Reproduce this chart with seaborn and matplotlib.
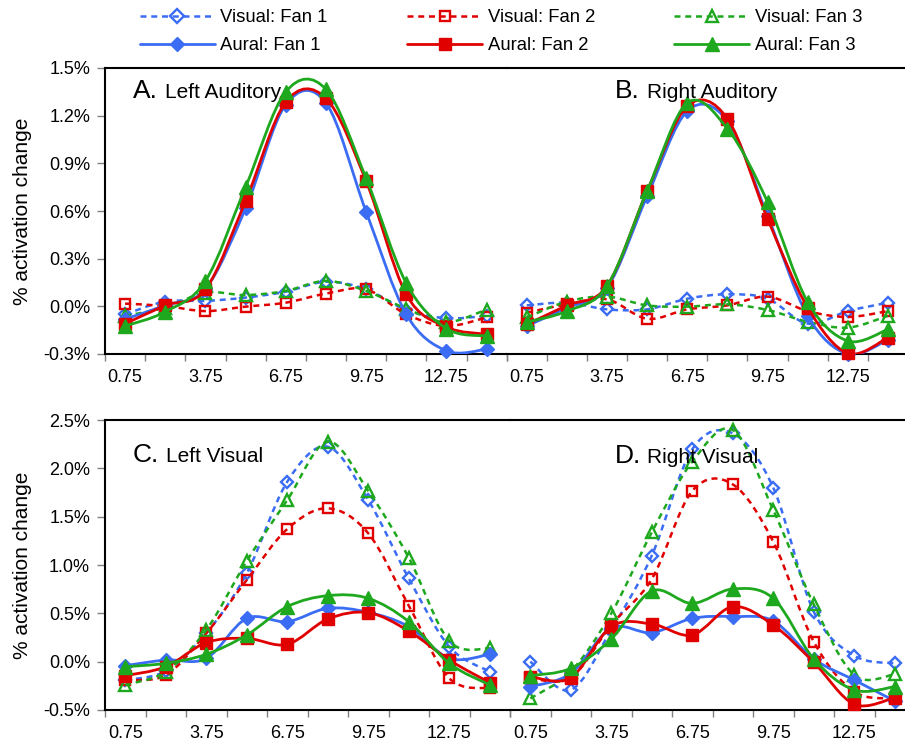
import numpy as np
import pandas as pd
import matplotlib
matplotlib.use("Agg")
import matplotlib.pyplot as plt
import seaborn as sns
from matplotlib.path import Path
from matplotlib.patches import PathPatch
from matplotlib.lines import Line2D
from matplotlib.ticker import FixedLocator, FuncFormatter, NullFormatter

# ---------------- data ----------------
x_vals = [0.75, 2.25, 3.75, 5.25, 6.75, 8.25, 9.75, 11.25, 12.75, 14.25]
x_tick_labels = ["0.75", "3.75", "6.75", "9.75", "12.75"]
x_tick_pos = [0.75, 3.75, 6.75, 9.75, 12.75]

series_labels = ["Visual: Fan 1", "Visual: Fan 2", "Visual: Fan 3",
                 "Aural: Fan 1", "Aural: Fan 2", "Aural: Fan 3"]

# A. Left Auditory
la_v1 = [-0.05, 0.03, 0.034, 0.055, 0.092, 0.155, 0.107, -0.023, -0.075, -0.06]
la_v2 = [0.017, 0.002, -0.03, -0.002, 0.023, 0.08, 0.107, -0.05, -0.124, -0.07]
la_v3 = [-0.06, -0.008, 0.086, 0.071, 0.097, 0.16, 0.097, -0.015, -0.10, -0.02]
la_a1 = [-0.08, 0.006, 0.11, 0.617, 1.27, 1.28, 0.596, -0.05, -0.28, -0.27]
la_a2 = [-0.11, 0.006, 0.107, 0.663, 1.286, 1.309, 0.789, 0.075, -0.13, -0.176]
la_a3 = [-0.124, -0.034, 0.16, 0.751, 1.35, 1.366, 0.806, 0.145, -0.14, -0.187]

# B. Right Auditory
ra_v1 = [0.006, 0.023, -0.019, -0.019, 0.048, 0.076, 0.048, -0.109, -0.03, 0.023]
ra_v2 = [-0.04, 0.013, 0.044, -0.078, -0.019, 0.006, 0.061, -0.03, -0.067, -0.03]
ra_v3 = [-0.07, 0.03, 0.061, 0.006, -0.002, 0.013, -0.023, -0.097, -0.134, -0.06]
ra_a1 = [-0.124, -0.008, 0.117, 0.694, 1.229, 1.166, 0.57, -0.06, -0.30, -0.21]
ra_a2 = [-0.113, 0.006, 0.128, 0.726, 1.26, 1.181, 0.552, -0.008, -0.296, -0.197]
ra_a3 = [-0.099, -0.03, 0.128, 0.726, 1.28, 1.118, 0.657, 0.027, -0.218, -0.145]

# C. Left Visual
lv_v1 = [-0.19, -0.097, 0.293, 0.914, 1.862, 2.224, 1.672, 0.862, 0.155, -0.103]
lv_v2 = [-0.19, -0.138, 0.293, 0.845, 1.372, 1.586, 1.328, 0.579, -0.172, -0.276]
lv_v3 = [-0.241, -0.103, 0.328, 1.041, 1.672, 2.276, 1.766, 1.076, 0.214, 0.138]
lv_a1 = [-0.041, 0.017, 0.034, 0.448, 0.414, 0.552, 0.51, 0.362, 0.034, 0.076]
lv_a2 = [-0.145, -0.052, 0.197, 0.241, 0.179, 0.441, 0.507, 0.317, 0.017, -0.217]
lv_a3 = [-0.052, -0.017, 0.076, 0.276, 0.569, 0.683, 0.655, 0.414, -0.017, -0.241]

# D. Right Visual
rv_v1 = [0.0, -0.293, 0.33, 1.097, 2.197, 2.362, 1.8, 0.517, 0.062, -0.017]
rv_v2 = [-0.17, -0.166, 0.38, 0.855, 1.766, 1.834, 1.241, 0.207, -0.31, -0.38]
rv_v3 = [-0.38, -0.103, 0.5, 1.338, 2.069, 2.397, 1.569, 0.593, -0.138, -0.131]
rv_a1 = [-0.259, -0.121, 0.345, 0.3, 0.448, 0.466, 0.421, 0.028, -0.19, -0.407]
rv_a2 = [-0.155, -0.166, 0.362, 0.39, 0.276, 0.569, 0.379, -0.007, -0.441, -0.372]
rv_a3 = [-0.145, -0.069, 0.234, 0.731, 0.603, 0.752, 0.655, 0.028, -0.293, -0.259]

top_yticks = [-0.3, 0.0, 0.3, 0.6, 0.9, 1.2, 1.5]
bottom_yticks = [-0.5, 0.0, 0.5, 1.0, 1.5, 2.0, 2.5]

# ---------------- style ----------------
sns.set_theme(style="white")
plt.rcParams["font.family"] = ["Liberation Sans", "DejaVu Sans"]
plt.rcParams["text.color"] = "black"

BLUE, RED, GREEN = "#3a6cf4", "#e00000", "#1ea81e"
styles = [
    dict(color=BLUE, marker="D", filled=False, ms=6.5),
    dict(color=RED, marker="s", filled=False, ms=7.0),
    dict(color=GREEN, marker="^", filled=False, ms=8.0),
    dict(color=BLUE, marker="D", filled=True, ms=7.0),
    dict(color=RED, marker="s", filled=True, ms=8.5),
    dict(color=GREEN, marker="^", filled=True, ms=9.5),
]
DASH = (0, (2.4, 1.9))
LW_SOLID, LW_DASH = 2.0, 1.8

W, H = 905, 742
fig = plt.figure(figsize=(W / 100, H / 100), dpi=100)


def px_axes(l, t, r, b):
    return fig.add_axes([l / W, 1 - b / H, (r - l) / W, (b - t) / H])


def smooth_path(xs, ys):
    xs = np.asarray(xs, float)
    ys = np.asarray(ys, float)
    n = len(xs)
    verts = [(xs[0], ys[0])]
    codes = [Path.MOVETO]
    for i in range(n - 1):
        p0 = np.array([xs[max(i - 1, 0)], ys[max(i - 1, 0)]])
        p1 = np.array([xs[i], ys[i]])
        p2 = np.array([xs[i + 1], ys[i + 1]])
        p3 = np.array([xs[min(i + 2, n - 1)], ys[min(i + 2, n - 1)]])
        c1 = p1 + (p2 - p0) / 6.0
        c2 = p2 - (p3 - p1) / 6.0
        verts += [tuple(c1), tuple(c2), tuple(p2)]
        codes += [Path.CURVE4] * 3
    return Path(verts, codes)


def draw_series(ax, ys, st, z):
    lw = LW_SOLID if st["filled"] else LW_DASH
    ls = "-" if st["filled"] else DASH
    ax.add_patch(PathPatch(smooth_path(x_vals, ys), facecolor="none",
                           edgecolor=st["color"], lw=lw, linestyle=ls,
                           capstyle="butt", zorder=z))
    df = pd.DataFrame({"x": x_vals, "y": ys})
    sns.lineplot(data=df, x="x", y="y", ax=ax, color=st["color"],
                 marker=st["marker"], linewidth=0, estimator=None, sort=False)
    ln = ax.lines[-1]
    ln.set_linestyle("None")
    ln.set_markersize(st["ms"])
    ln.set_markeredgecolor(st["color"])
    ln.set_markerfacecolor(st["color"] if st["filled"] else "none")
    ln.set_markeredgewidth(1.0 if st["filled"] else 1.7)
    ln.set_clip_on(False)
    ln.set_zorder(z + 0.5)


def setup_axes(ax, ylim, yticks, show_y):
    ax.set_xlim(0, 15)
    ax.set_ylim(*ylim)
    ax.grid(False)
    ax.set_xlabel("")
    ax.set_ylabel("")
    ax.xaxis.set_major_locator(FixedLocator(list(np.arange(0, 15.01, 1.5))))
    ax.xaxis.set_major_formatter(NullFormatter())
    ax.xaxis.set_minor_locator(FixedLocator(x_tick_pos))
    ax.xaxis.set_minor_formatter(FuncFormatter(
        lambda v, p: x_tick_labels[x_tick_pos.index(min(x_tick_pos, key=lambda t: abs(t - v)))]))
    ax.tick_params(axis="x", which="major", bottom=True, length=5, width=1,
                   color="#808080", direction="out", labelbottom=False)
    ax.tick_params(axis="x", which="minor", bottom=True, length=0, pad=11,
                   labelsize=13, labelcolor="black", labelbottom=True)
    ax.set_yticks(yticks)
    ax.yaxis.set_major_formatter(FuncFormatter(lambda v, p: f"{v:.1f}%"))
    if show_y:
        ax.tick_params(axis="y", which="major", left=True, length=5.8, width=1,
                       color="#808080", direction="out", pad=5, labelsize=13,
                       labelcolor="black")
    else:
        ax.tick_params(axis="y", which="both", left=False, labelleft=False)
    for side in ["top", "bottom", "left"]:
        ax.spines[side].set_color("black")
        ax.spines[side].set_linewidth(1.5)
    ax.spines["right"].set_visible(False)
    ax.spines["left"].set_visible(show_y)
    ax.patch.set_alpha(0)


panels = [
    ((105, 68, 506.7, 354), (-0.3, 1.5), top_yticks, True,
     [la_v1, la_v2, la_v3, la_a1, la_a2, la_a3]),
    ((506.7, 68, 908, 354), (-0.3, 1.5), top_yticks, False,
     [ra_v1, ra_v2, ra_v3, ra_a1, ra_a2, ra_a3]),
    ((105, 420, 510, 710), (-0.5, 2.5), bottom_yticks, True,
     [lv_v1, lv_v2, lv_v3, lv_a1, lv_a2, lv_a3]),
    ((510, 420, 915, 710), (-0.5, 2.5), bottom_yticks, False,
     [rv_v1, rv_v2, rv_v3, rv_a1, rv_a2, rv_a3]),
]

for rect, ylim, yt, show_y, series in panels:
    ax = px_axes(*rect)
    for k, (ys, st) in enumerate(zip(series, styles)):
        draw_series(ax, ys, st, 2 + k)
    setup_axes(ax, ylim, yt, show_y)

# panel titles
titles = [(133, 165, 98, "A.", "Left Auditory"),
          (615, 646.7, 98, "B.", "Right Auditory"),
          (133, 166, 462.5, "C.", "Left Visual"),
          (615, 647.3, 463.3, "D.", "Right Visual")]
for xl, xt, yb, letter, name in titles:
    fig.text(xl / W, 1 - yb / H, letter, fontsize=19, va="baseline", ha="left")
    fig.text(xt / W, 1 - yb / H, name, fontsize=15, va="baseline", ha="left")

# y labels
for yc in [(68 + 354) / 2, (420 + 710) / 2]:
    fig.text(23 / W, 1 - yc / H, "% activation change", rotation=90,
             fontsize=15, va="center", ha="center")

# legend
handles = []
labels = []
for idx in [0, 3, 1, 4, 2, 5]:
    st = styles[idx]
    handles.append(Line2D([], [], color=st["color"],
                          lw=LW_SOLID if st["filled"] else LW_DASH,
                          linestyle="-" if st["filled"] else DASH,
                          marker=st["marker"], markersize=st["ms"] + 0.5,
                          markerfacecolor=st["color"] if st["filled"] else "none",
                          markeredgecolor=st["color"],
                          markeredgewidth=1.0 if st["filled"] else 1.7))
    labels.append(series_labels[idx])
fig.legend(handles, labels, ncol=3, loc="upper left",
           bbox_to_anchor=(140 / W, 1 - 9 / H), frameon=False, fontsize=13.3,
           handlelength=4.05, handletextpad=0.3, columnspacing=4.3,
           labelspacing=0.62, borderpad=0, borderaxespad=0)

fig.savefig("out.png", dpi=100)
